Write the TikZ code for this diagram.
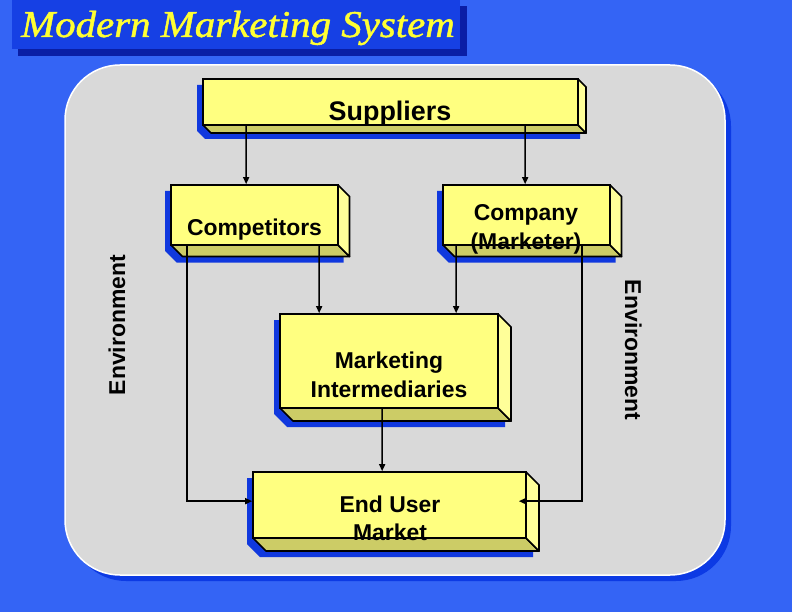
\documentclass[tikz,border=0pt]{standalone}
\usepackage{fontspec}
\setmainfont{Liberation Sans}
\newfontfamily\titlefont[FakeStretch=1.08,FakeBold=1.2]{Liberation Serif}
\usetikzlibrary{arrows.meta,calc}
\definecolor{bgblue}{RGB}{52,100,245}
\definecolor{titlebox}{RGB}{22,64,228}
\definecolor{titleshadow}{RGB}{10,30,165}
\definecolor{titleyellow}{RGB}{255,255,51}
\definecolor{panelgrey}{RGB}{217,217,217}
\definecolor{panelshadow}{RGB}{12,58,228}
\definecolor{boxyellow}{RGB}{255,255,128}
\definecolor{bevelbottom}{RGB}{204,204,102}
\definecolor{bevelright}{RGB}{255,255,153}
\definecolor{boxshadow}{RGB}{16,56,222}
\tikzset{
  boxfront/.style={draw=black, line width=1.7bp, fill=boxyellow, inner sep=0pt},
  bevel/.style={draw=black, line width=1.7bp, line join=round},
  lbl/.style={font=\fontsize{23}{28.5}\selectfont\bfseries, align=center, inner sep=0pt, anchor=base},
  arr/.style={line width=1.5bp, -{Triangle[length=7bp,width=6bp]}},
  envlbl/.style={font=\fontsize{23}{28}\selectfont\bfseries, inner sep=0pt, anchor=base},
}
\newcommand{\mkbox}[6]{%
  \fill[boxshadow] (#2-6,#3+6) -- (#4-6,#3+6) -- (#4+#6-6,#3+#6+6) -- (#4+#6-6,#5+#6+6) -- (#2+#6-6,#5+#6+6) -- (#2-6,#5+6) -- cycle;
  \filldraw[bevel, fill=bevelbottom] (#2,#5) -- (#4,#5) -- (#4+#6,#5+#6) -- (#2+#6,#5+#6) -- cycle;
  \filldraw[bevel, fill=bevelright] (#4,#3) -- (#4+#6,#3+#6) -- (#4+#6,#5+#6) -- (#4,#5) -- cycle;
  \pgfmathsetmacro\bw{#4-#2}%
  \pgfmathsetmacro\bh{#5-#3}%
  \node[boxfront, minimum width=\bw bp, minimum height=\bh bp] (#1) at ({(#2+#4)/2},{(#3+#5)/2}) {};
}
\begin{document}
\begin{tikzpicture}[x=1bp,y=-1bp]
\useasboundingbox (0,0) rectangle (792,612);
\fill[bgblue] (0,0) rectangle (792,612);
% title
\fill[titleshadow] (18,6) rectangle (467,56);
\fill[titlebox] (12,-1) rectangle (460,49);
\node[font=\titlefont\itshape\fontsize{38}{40}\selectfont, text=titleyellow, anchor=base, inner sep=0pt] (title) at (238,37) {Modern Marketing System};
% panel
\fill[panelshadow, rounded corners=55bp] (71,71) rectangle (731,581);
\filldraw[draw=white, line width=1.5bp, fill=panelgrey, rounded corners=55bp] (65,65) rectangle (725,575);
% boxes
\mkbox{sup}{203}{79}{578}{125}{8}
\mkbox{comp}{171}{185}{338}{245}{11.5}
\mkbox{co}{443}{185}{610}{245}{11.5}
\mkbox{mi}{280}{314}{498}{408}{13}
\mkbox{eu}{253}{472}{526}{538}{13}
% labels
\node[lbl, font=\fontsize{27}{30}\selectfont\bfseries] (supT) at (390,121) {Suppliers};
\node[lbl] (compT) at (254.5,235.7) {Competitors};
\node[lbl] (coT) at (526,249) {Company\\(Marketer)};
\node[lbl] (miT) at (389,397.3) {Marketing\\Intermediaries};
\node[lbl] (euT) at (390,540.5) {End User\\Market};
\node[envlbl, rotate=90] (envL) at (125,325) {Environment};
\node[envlbl, rotate=-90] (envR) at (625,350) {Environment};
% connectors
\draw[arr] ([xshift=44bp]sup.south west) -- ([xshift=76bp]comp.north west);
\draw[arr] ([xshift=323bp]sup.south west) -- ([xshift=83bp]co.north west);
\draw[arr] ([xshift=149bp]comp.south west) -- ([xshift=40bp]mi.north west);
\draw[arr] ([xshift=14bp]co.south west) -- ([xshift=177bp]mi.north west);
\draw[arr] ([xshift=103bp]mi.south west) -- ([xshift=130bp]eu.north west);
\draw[arr] ([xshift=17bp]comp.south west) |- ([yshift=-30bp]eu.north west);
\draw[arr] ([xshift=140bp]co.south west) |- ([xshift=-8bp,yshift=-30bp]eu.north east);
\end{tikzpicture}
\end{document}
